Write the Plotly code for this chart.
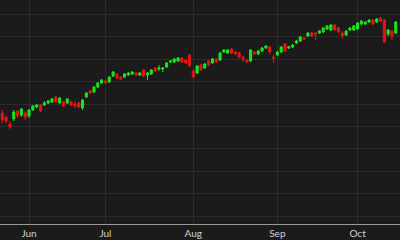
import pandas as pd
import plotly.graph_objects as go

# Daily OHLC values (arbitrary price units)
open_ = [137, 133, 126, 131, 139, 135, 137, 134, 140, 143, 145, 145, 147, 148, 153, 147, 148, 147, 148, 146,
         147, 142, 153, 159, 158, 163, 167, 169, 168, 174, 176, 173, 173, 175, 176, 177, 175, 180, 175, 176,
         182, 181, 181, 183, 188, 188, 189, 192, 190, 195, 179, 177, 185, 182, 189, 187, 191, 190, 198, 197,
         201, 198, 197, 193, 190, 189, 198, 196, 199, 202, 203, 193, 195, 198, 206, 202, 203, 207, 209, 212,
         214, 217, 217, 217, 218, 221, 220, 225, 222, 217, 215, 220, 220, 221, 226, 226, 228, 230, 228, 232,
         230, 216, 219, 217]
high = [140, 134, 129, 140, 140, 142, 139, 141, 145, 146, 146, 149, 150, 152, 154, 153, 149, 152, 149, 149,
        148, 151, 158, 160, 164, 168, 171, 170, 174, 179, 177, 174, 177, 178, 179, 178, 178, 181, 178, 181,
        183, 185, 183, 188, 190, 192, 193, 193, 191, 196, 180, 185, 186, 187, 190, 192, 192, 198, 201, 201,
        202, 199, 198, 194, 191, 201, 199, 200, 203, 205, 204, 195, 199, 204, 207, 204, 206, 210, 214, 213,
        218, 218, 218, 220, 223, 225, 226, 226, 223, 219, 220, 223, 225, 228, 230, 229, 231, 231, 232, 233,
        231, 221, 220, 229]
low = [127, 127, 121, 129, 132, 133, 130, 132, 139, 142, 138, 144, 146, 147, 147, 146, 143, 146, 144, 142,
       142, 140, 152, 156, 157, 162, 166, 166, 167, 173, 171, 170, 172, 174, 175, 174, 174, 173, 170, 175,
       178, 179, 178, 182, 187, 187, 188, 187, 186, 183, 172, 176, 179, 181, 184, 186, 187, 189, 197, 196,
       196, 195, 192, 188, 187, 188, 195, 195, 198, 201, 196, 187, 194, 197, 198, 201, 202, 206, 208, 210,
       213, 213, 210, 216, 217, 220, 219, 219, 217, 211, 214, 219, 219, 220, 225, 225, 227, 225, 227, 228,
       207, 214, 210, 216]
close = [130, 129, 123, 138, 134, 141, 133, 140, 144, 145, 139, 147, 149, 151, 148, 152, 144, 151, 145, 144,
         143, 150, 157, 157, 163, 167, 170, 167, 173, 178, 172, 171, 176, 177, 178, 175, 177, 174, 177, 180,
         179, 182, 182, 187, 189, 191, 192, 188, 187, 184, 173, 184, 180, 186, 185, 191, 188, 197, 200, 200,
         197, 196, 193, 191, 188, 200, 196, 199, 202, 204, 198, 192, 198, 203, 199, 203, 205, 209, 213, 211,
         217, 214, 216, 219, 222, 224, 225, 220, 218, 214, 219, 222, 224, 227, 229, 228, 230, 226, 231, 229,
         208, 220, 214, 228]

dates = pd.bdate_range(start="2024-05-23", periods=len(open_))

fig = go.Figure(go.Candlestick(
    x=dates, open=open_, high=high, low=low, close=close,
    increasing=dict(line=dict(color="#19e619", width=1), fillcolor="#19e619"),
    decreasing=dict(line=dict(color="#e61414", width=1), fillcolor="#e61414"),
    whiskerwidth=0,
))

bg = "#1b1b1b"
grid = "#2c2c2c"
fig.update_layout(
    width=400, height=240,
    margin=dict(l=0, r=0, t=0, b=16),
    paper_bgcolor=bg, plot_bgcolor=bg,
    showlegend=False,
    boxgap=0.22,
    xaxis=dict(
        type="date",
        range=["2024-05-22 09:30", "2024-10-16 02:30"],
        rangebreaks=[dict(bounds=["sat", "mon"])],
        rangeslider=dict(visible=False),
        tick0="2024-06-01", dtick="M1", tickformat="%b",
        showgrid=True, gridcolor=grid, gridwidth=1,
        showline=True, linecolor="#9a9a9a", linewidth=1,
        ticks="", zeroline=False,
        tickfont=dict(family="Lato", size=10, color="#d2d2d2"),
    ),
    yaxis=dict(
        range=[26, 250],
        tick0=34, dtick=22.4,
        showgrid=True, gridcolor=grid, gridwidth=1,
        showticklabels=False, zeroline=False, ticks="",
    ),
)

fig.write_html("out.html")
